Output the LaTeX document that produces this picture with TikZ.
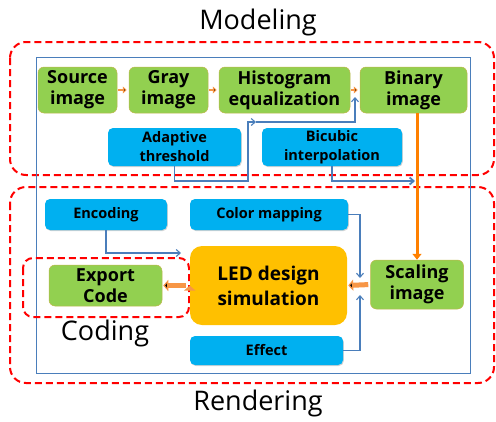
\documentclass[tikz,border=0pt]{standalone}
\usepackage{fontspec}
\setmainfont{Open Sans}
\usetikzlibrary{positioning,arrows.meta,shadows}
\definecolor{stepgreen}{HTML}{92D050}
\definecolor{stepblue}{HTML}{00B0F0}
\definecolor{ledorange}{HTML}{FFC000}
\definecolor{linkblue}{HTML}{4A7EBB}
\definecolor{flow}{HTML}{F79646}
\definecolor{mainflow}{HTML}{FF8000}
\begin{document}
\begin{tikzpicture}[x=1pt,y=-1pt,
  green/.style={draw=flow!45!stepgreen,line width=0.5pt,fill=stepgreen,rounded corners=6pt,
    align=center,font=\bfseries\fontsize{18}{21}\selectfont,inner sep=0pt},
  blue/.style={draw=none,fill=stepblue,rounded corners=5pt,
    drop shadow={shadow xshift=0.8pt,shadow yshift=-1pt,opacity=0.35},
    align=center,font=\bfseries\fontsize{14.5}{19}\selectfont,inner sep=0pt},
  group/.style={draw=red,line width=2pt,dash pattern=on 7pt off 4pt,rounded corners=16pt},
  title/.style={font=\fontsize{27}{30}\selectfont},
  link/.style={draw=linkblue,line width=1.1pt,-{Straight Barb[length=4pt,width=7pt]}},
  thin flow/.style={draw=flow,line width=2.5pt,-{Triangle[length=4pt,width=7pt]}},
  fat flow/.style={draw=flow,line width=5pt,-{Triangle[length=5pt,width=11pt]}}]
		\useasboundingbox (0,0) rectangle (496,421);
		% groups
		\draw[group] (10,42) rectangle (494,175);
		\draw[group] (10,187) rectangle (494,383);
		\draw[linkblue,line width=1pt] (36,57) rectangle (470,373);
		\draw[group,rounded corners=10pt] (23,258) rectangle (189,317);
		\node[title] (modeling) at (258,22) {Modeling};
		\node[title] (rendering) at (258,403) {Rendering};
		\node[title] (coding) at (105,333) {Coding};
		
		% modeling
		\node[green,minimum width=79pt,minimum height=46pt] (src) at (77.5,90) {Source\\image};
		\node[green,minimum width=79pt,minimum height=46pt] (gray) at (168.5,90) {Gray\\image};
		\node[green,minimum width=131pt,minimum height=46pt] (hist) at (284.5,90) {Histogram\\equalization};
		\node[green,minimum width=107pt,minimum height=46pt] (bin) at (413.5,90) {Binary\\image};
		\node[blue,minimum width=133pt,minimum height=38pt] (adapt) at (174.5,147) {Adaptive\\threshold};
		\node[blue,minimum width=140pt,minimum height=38pt] (bicub) at (332,147) {Bicubic\\interpolation};
		
		% rendering
		\node[blue,minimum width=122pt,minimum height=31pt] (enc) at (106,214.5) {Encoding};
		\node[blue,minimum width=158pt,minimum height=31pt] (cmap) at (269,214.5) {Color mapping};
		\node[green,fill=ledorange,draw=none,rounded corners=12pt,minimum width=157pt,minimum height=79pt,
		      font=\bfseries\fontsize{19}{25}\selectfont] (led) at (268.5,285.5) {LED design\\simulation};
		\node[green,minimum width=93pt,minimum height=49pt] (scal) at (417,284.5) {Scaling\\image};
		\node[green,minimum width=113pt,minimum height=41pt] (exp) at (105.5,285.5) {Export\\Code};
		\node[blue,minimum width=153pt,minimum height=29pt] (eff) at (266.5,350.5) {Effect};
		
		\coordinate (j1) at (256,122);
		\coordinate (j2) at (355,97);
		\coordinate (j3) at (415,181);
		\coordinate (j4) at (181,253);
		\coordinate (j5) at (360,278);
		\coordinate (j6) at (360,295);
		
		\path[thin flow,shorten <=1pt,shorten >=2pt]
		(src) edge (gray)
		(gray) edge (hist)
		(hist) edge (bin);
		
		\draw[link] (adapt.south) |- (248,181) |- (j1);
		\draw[link] (j1) -| (j2);
		\draw[link,line width=1.8pt] (bicub.south) |- (j3);
		\draw[link] (enc.south) |- (j4);
		\draw[link] (cmap.east) -| (j5);
		\draw[link] (eff.east) -| (j6);
		
		\draw[mainflow,line width=3pt,-{Triangle[length=6pt,width=9pt]}] (bin.south -| scal.north) -- (scal.north);
		\path[fat flow] 
		(scal.west) edge[shorten <=2pt,shorten >=1pt] (led.east)
		(led.west) edge[shorten <=4pt,shorten >=1pt] (exp.east);
	\end{tikzpicture}
\end{document}
